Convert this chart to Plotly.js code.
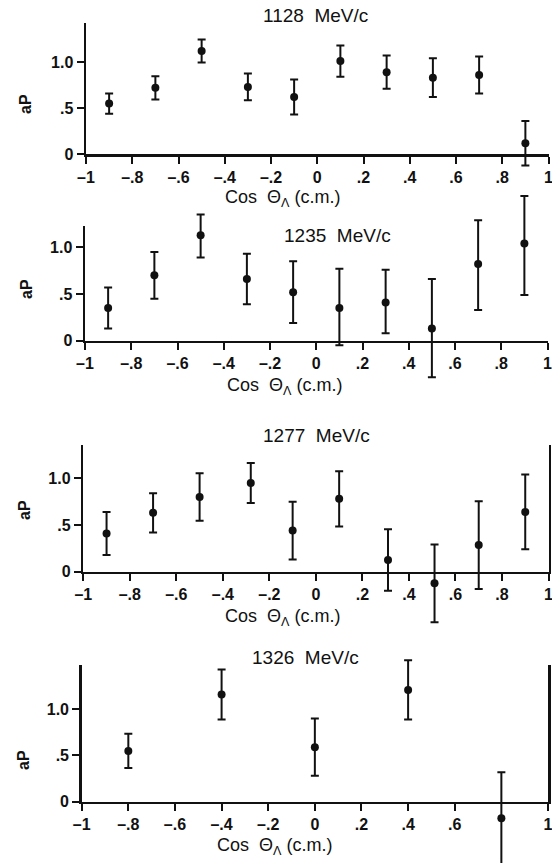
<!DOCTYPE html>
<html>
<head>
<meta charset="utf-8">
<script src="https://cdn.plot.ly/plotly-3.0.1.min.js"></script>
<style>html,body{margin:0;padding:0;background:#fff}#chart{width:552px;height:863px}</style>
</head>
<body>
<div id="chart"></div>
<script>
// ---- data ----
const panelTitles = ["1128  MeV/c", "1235  MeV/c", "1277  MeV/c", "1326  MeV/c"];
const xTitle = "Cos  \u0398<sub>\u039b</sub> (c.m.)";
const yTitle = "aP";

const p1x = [-0.9, -0.7, -0.5, -0.3, -0.1, 0.1, 0.3, 0.5, 0.7, 0.9];
const p1y = [0.55, 0.72, 1.12, 0.73, 0.62, 1.01, 0.89, 0.83, 0.86, 0.12];
const p1e = [0.11, 0.125, 0.125, 0.145, 0.19, 0.17, 0.18, 0.21, 0.2, 0.24];

const p2x = [-0.9, -0.7, -0.5, -0.3, -0.1, 0.1, 0.3, 0.5, 0.7, 0.9];
const p2y = [0.35, 0.70, 1.13, 0.66, 0.52, 0.35, 0.41, 0.13, 0.82, 1.04];
const p2ePlus = [0.22, 0.25, 0.22, 0.27, 0.33, 0.42, 0.35, 0.53, 0.47, 0.51];
const p2eMinus = [0.22, 0.25, 0.24, 0.27, 0.33, 0.40, 0.33, 0.52, 0.49, 0.55];

const p3x = [-0.9, -0.7, -0.5, -0.28, -0.1, 0.1, 0.31, 0.51, 0.7, 0.9];
const p3y = [0.41, 0.63, 0.80, 0.95, 0.44, 0.78, 0.125, -0.125, 0.285, 0.64];
const p3e = [0.23, 0.21, 0.255, 0.215, 0.31, 0.295, 0.33, 0.415, 0.47, 0.4];

const p4x = [-0.8, -0.4, 0, 0.4, 0.8];
const p4y = [0.55, 1.16, 0.59, 1.21, -0.18];
const p4e = [0.185, 0.27, 0.31, 0.32, 0.5];

const xTickVals = [-1, -0.8, -0.6, -0.4, -0.2, 0, 0.2, 0.4, 0.6, 0.8, 1];
const xTickText = ["\u20131", "\u2013.8", "\u2013.6", "\u2013.4", "\u2013.2", "0", ".2", ".4", ".6", ".8", "1"];
const x4TickVals = [-1, -0.8, -0.6, -0.4, -0.2, 0, 0.2, 0.4, 0.6, 1];
const x4TickText = ["\u20131", "\u2013.8", "\u2013.6", "\u2013.4", "\u2013.2", "0", ".2", ".4", ".6", "1"];
const yTickVals = [0, 0.5, 1.0];
const yTickText = ["0", ".5", "1.0"];

// ---- layout helpers (pixel geometry) ----
const W = 552, H = 863;
const INK = "#111";
const px = v => v / W;
const py = v => 1 - v / H;
const FAM = "Liberation Sans, Arial, sans-serif";

function mkTrace(x, y, plus, minus, xa, ya) {
  return {
    type: "scatter", mode: "markers", x: x, y: y,
    xaxis: xa, yaxis: ya, cliponaxis: false, showlegend: false,
    marker: {color: INK, size: 8},
    error_y: {type: "data", array: plus, arrayminus: minus, symmetric: false,
              color: INK, thickness: 2, width: 4}
  };
}
// empty trace so that the framed (visible) axes pair is built as a subplot
function frameTrace(xa, ya) {
  return {type: "scatter", mode: "markers", x: [], y: [], xaxis: xa, yaxis: ya,
          showlegend: false, hoverinfo: "skip"};
}

const traces = [
  frameTrace("x", "y"), frameTrace("x2", "y2"), frameTrace("x3", "y3"), frameTrace("x4", "y4"),
  mkTrace(p1x, p1y, p1e, p1e, "x", "y5"),
  mkTrace(p2x, p2y, p2ePlus, p2eMinus, "x2", "y6"),
  mkTrace(p3x, p3y, p3e, p3e, "x3", "y7"),
  mkTrace(p4x, p4y, p4e, p4e, "x4", "y8")
];

const tickFont = {family: FAM, size: 16, color: INK, weight: 700};

function xAx(x0, x1, anchor, vals, text) {
  return {domain: [px(x0), px(x1)], range: [-1, 1], anchor: anchor,
    showline: true, linecolor: INK, linewidth: 2.5, showgrid: false, zeroline: false,
    ticks: "outside", ticklen: 7, tickwidth: 2, tickcolor: INK, ticklabeloverflow: "allow",
    tickmode: "array", tickvals: vals, ticktext: text, tickfont: tickFont, fixedrange: true};
}
function yAx(top, bottom, ymax, anchor, mirror) {
  return {domain: [py(bottom), py(top)], range: [0, ymax], anchor: anchor,
    showline: true, linecolor: INK, linewidth: 2.5, showgrid: false, zeroline: false,
    mirror: mirror, ticks: "outside", ticklen: 7, tickwidth: 2, tickcolor: INK,
    tickmode: "array", tickvals: yTickVals, ticktext: yTickText, tickfont: tickFont, fixedrange: true};
}
// hidden data axis sharing the same value->pixel scale but with a taller area,
// so that bars reaching below 0 or above the frame are not clipped
function yData(zeroPx, unitPx, anchor) {
  const topPx = Math.max(0, zeroPx - 1.75 * unitPx);
  const botPx = Math.min(H, zeroPx + 0.8 * unitPx);
  return {domain: [py(botPx), py(topPx)],
    range: [-(botPx - zeroPx) / unitPx, (zeroPx - topPx) / unitPx],
    anchor: anchor, visible: false, showticklabels: false, fixedrange: true};
}

const titleFont = {family: FAM, size: 19, color: INK};
const xtFont = {family: FAM, size: 18, color: INK};
const ytFont = {family: FAM, size: 16, color: INK, weight: 700};

function ann(text, x, y, font, angle) {
  return {text: text, x: px(x), y: py(y), xref: "paper", yref: "paper",
    xanchor: "center", yanchor: "middle", showarrow: false, font: font, textangle: angle || 0};
}

const annotations = [
  ann(panelTitles[0], 315, 15, titleFont),
  ann(panelTitles[1], 337, 235, titleFont),
  ann(panelTitles[2], 316, 435, titleFont),
  ann(panelTitles[3], 305, 657, titleFont),
  ann(xTitle, 283, 198, xtFont),
  ann(xTitle, 284, 386, xtFont),
  ann(xTitle, 283, 617, xtFont),
  ann(xTitle, 274, 846, xtFont),
  ann(yTitle, 26, 104, ytFont, -90),
  ann(yTitle, 26, 289, ytFont, -90),
  ann(yTitle, 24, 510, ytFont, -90),
  ann(yTitle, 23, 760, ytFont, -90)
];

const layout = {
  width: W, height: H,
  margin: {l: 0, r: 0, t: 0, b: 0},
  paper_bgcolor: "#fff", plot_bgcolor: "rgba(0,0,0,0)",
  showlegend: false,
  xaxis:  xAx(86, 548.5, "y", xTickVals, xTickText),
  yaxis:  yAx(23.3, 154.3, 1.419, "x", false),
  xaxis2: xAx(85, 547.5, "y2", xTickVals, xTickText),
  yaxis2: yAx(226, 340.7, 1.228, "x2", false),
  xaxis3: xAx(83.3, 548.5, "y3", xTickVals, xTickText),
  yaxis3: yAx(445, 571.7, 1.357, "x3", true),
  xaxis4: xAx(81.7, 548, "y4", x4TickVals, x4TickText),
  yaxis4: yAx(665, 801.7, 1.479, "x4", true),
  yaxis5: yData(154.3, 92.3, "x"),
  yaxis6: yData(340.7, 93.4, "x2"),
  yaxis7: yData(571.7, 93.4, "x3"),
  yaxis8: yData(801.7, 92.4, "x4"),
  annotations: annotations
};

Plotly.newPlot("chart", traces, layout, {staticPlot: true, displayModeBar: false});
</script>
</body>
</html>
